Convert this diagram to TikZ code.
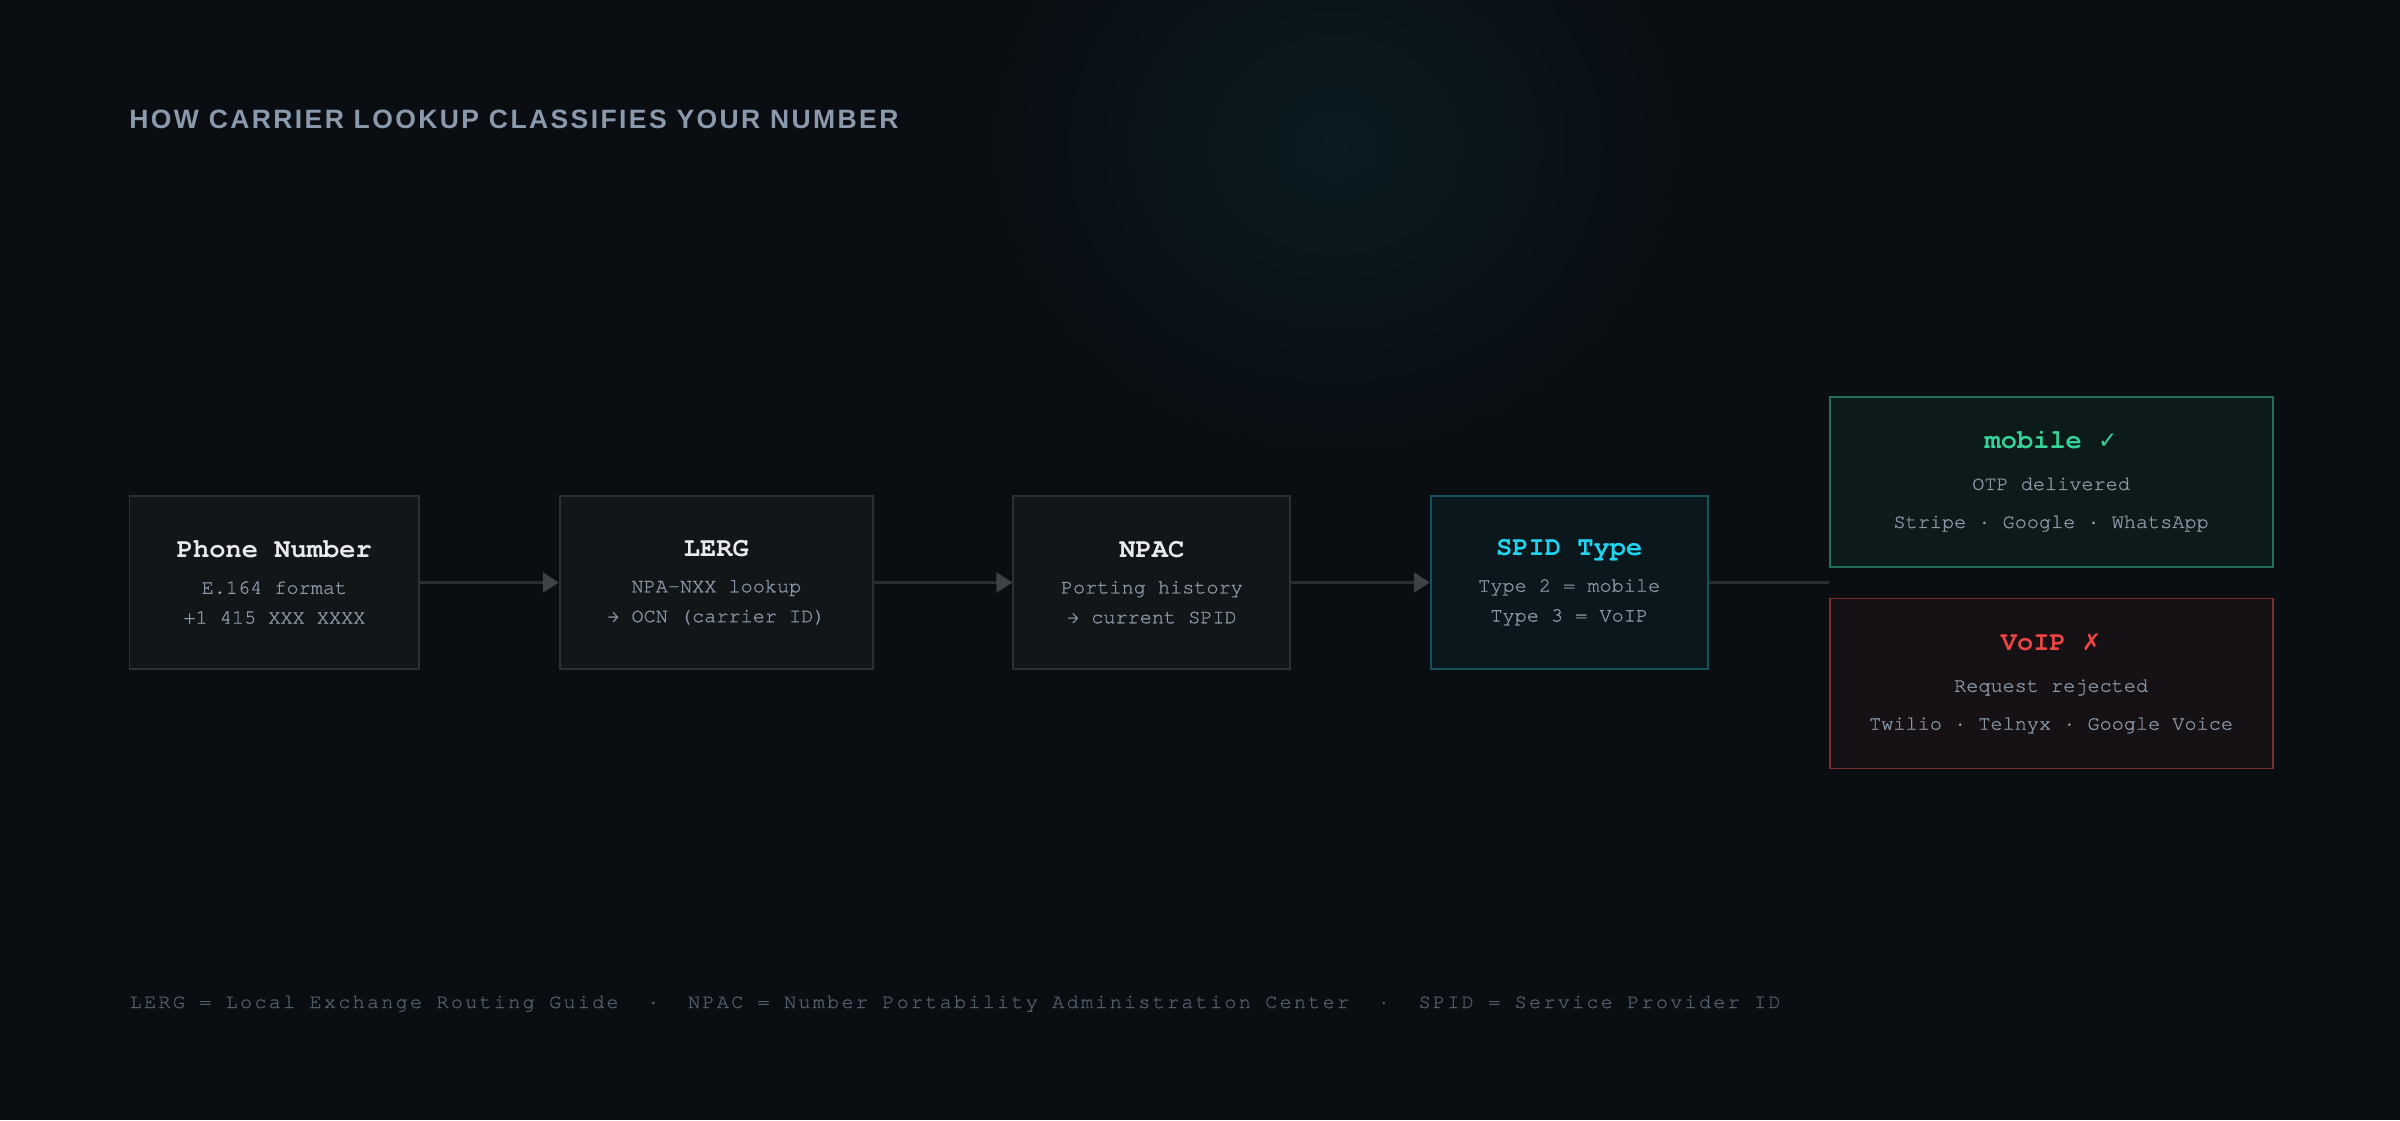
\documentclass[tikz,border=0pt]{standalone}
\usepackage{fontspec}
\usetikzlibrary{arrows.meta, positioning, calc}
\newfontfamily\monofont[UprightFeatures={FakeBold=0.9}]{TeX Gyre Cursor}
\newfontfamily\headfont[LetterSpace=9]{Liberation Sans}
\newfontfamily\footfont[LetterSpace=11, FakeBold=0.9]{TeX Gyre Cursor}
\newfontfamily\symbolfont{DejaVu Sans}
\definecolor{bgdark}{RGB}{10, 13, 18}
\definecolor{glow}{RGB}{10, 27, 33}
\definecolor{boxfill}{RGB}{19, 22, 25}
\definecolor{boxline}{RGB}{44, 48, 53}
\definecolor{linkline}{RGB}{42, 45, 49}
\definecolor{tipgray}{RGB}{62, 65, 70}
\definecolor{titlewhite}{RGB}{232, 234, 237}
\definecolor{subgray}{RGB}{138, 152, 168}
\definecolor{headgray}{RGB}{139, 153, 173}
\definecolor{footgray}{RGB}{82, 93, 106}
\definecolor{spidfill}{RGB}{10, 24, 29}
\definecolor{spidline}{RGB}{22, 82, 94}
\definecolor{spidcyan}{RGB}{34, 211, 238}
\definecolor{okfill}{RGB}{12, 26, 25}
\definecolor{okline}{RGB}{34, 112, 84}
\definecolor{okgreen}{RGB}{52, 211, 153}
\definecolor{nofill}{RGB}{22, 17, 21}
\definecolor{noline}{RGB}{125, 45, 45}
\definecolor{nored}{RGB}{239, 68, 68}
\newcommand{\stagetitle}[2][titlewhite]{{\fontsize{7.7}{8.5}\selectfont\bfseries\color{#1}#2}}
\newcommand{\marksym}[1]{{\symbolfont\fontsize{6.6}{8}\selectfont #1}}

\begin{document}
\begin{tikzpicture}[
    stagebox/.style={draw=boxline, fill=boxfill, line width=0.55pt, minimum height=1.73cm, inner xsep=0.475cm, inner ysep=0pt, align=center, text=subgray, font=\monofont\fontsize{5.75}{8.5}\selectfont},
    resultbox/.style={stagebox, minimum width=4.43cm, minimum height=1.70cm, inner xsep=0.2cm, font=\monofont\fontsize{5.75}{10.8}\selectfont},
    link/.style={draw=linkline, line width=0.7pt, -{Triangle[length=1.6mm, width=2mm, color=tipgray]}},
    node distance=1.385cm
]

% Background and glow
\useasboundingbox (0,0) rectangle (24,-11.2);
\fill[bgdark] (0,0) rectangle (24,-11.2);
\begin{scope}
    \clip (0,0) rectangle (24,-11.2);
    \shade[inner color=glow, outer color=bgdark] (13.35,-1.45) ellipse (3.8cm and 3.4cm);
\end{scope}

% Heading
\node[anchor=base west, inner sep=0pt, text=headgray, font=\headfont\bfseries\fontsize{7.55}{9}\selectfont] (heading) at (1.287,-1.283) {HOW CARRIER LOOKUP CLASSIFIES YOUR NUMBER};

% Lookup stages
\node[stagebox, anchor=west] (phone) at (1.285,-5.825) {\stagetitle{Phone Number}\\[1.7pt] E.164 format\\ +1 415 XXX XXXX};
\node[stagebox, right=of phone] (lerg) {\stagetitle{LERG}\\[1.7pt] NPA-NXX lookup\\ → OCN (carrier ID)};
\node[stagebox, right=of lerg] (npac) {\stagetitle{NPAC}\\[1.7pt] Porting history\\ → current SPID};
\node[stagebox, draw=spidline, fill=spidfill, right=of npac] (spid) {\stagetitle[spidcyan]{SPID Type}\\[1.7pt] Type 2 = mobile\\ Type 3 = VoIP};

% Arrows
\draw[link] (phone) -- (lerg);
\draw[link] (lerg) -- (npac);
\draw[link] (npac) -- (spid);

% Outcomes
\coordinate[right=1.2cm of spid] (fork);
\draw[linkline, line width=0.7pt] (spid) -- (fork);
\node[resultbox, draw=okline, fill=okfill, anchor=south west] (mobile) at ($(fork)+(0,0.15)$) {\stagetitle[okgreen]{mobile \marksym{✓}}\\[0.95pt] OTP delivered\\ Stripe · Google · WhatsApp};
\node[resultbox, draw=noline, fill=nofill, anchor=north west] (voip) at ($(fork)+(0,-0.15)$) {\stagetitle[nored]{VoIP \marksym{✗}}\\[0.95pt] Request rejected\\ Twilio · Telnyx · Google Voice};

% Legend
\node[anchor=base west, inner sep=0pt, text=footgray, font=\footfont\fontsize{5.75}{7}\selectfont] (legend) at (1.29,-10.08) {LERG = Local Exchange Routing Guide~~·~~NPAC = Number Portability Administration Center~~·~~SPID = Service Provider ID};

\end{tikzpicture}
\end{document}
